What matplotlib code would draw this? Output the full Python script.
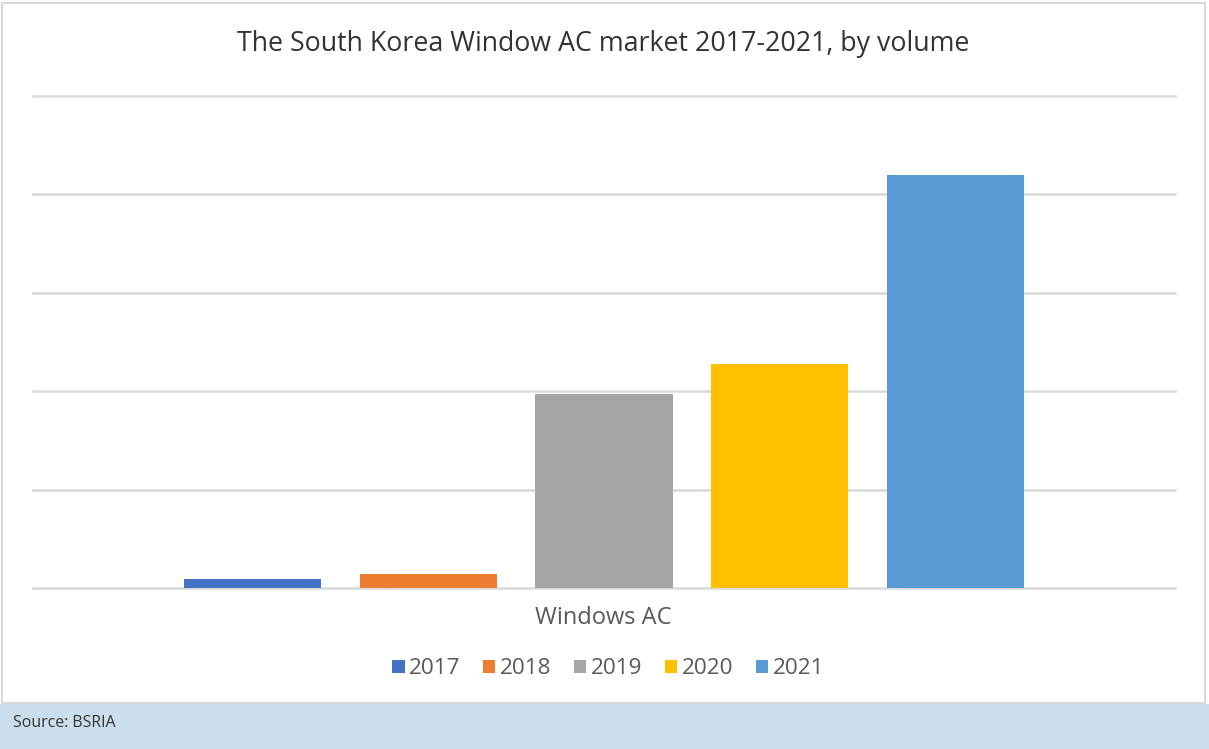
import matplotlib.pyplot as plt
from matplotlib.patches import Rectangle, Patch

# Données (unités = pas de grille, axe sans étiquettes)
years = ['2017', '2018', '2019', '2020', '2021']
volumes = [0.095, 0.146, 1.976, 2.275, 4.20]
colors = ['#4472C4', '#ED7D31', '#A5A5A5', '#FFC000', '#5B9BD5']
category = 'Windows AC'
title = 'The South Korea Window AC market 2017-2021, by volume'
source = 'Source: BSRIA'

plt.rcParams['font.family'] = ['Open Sans', 'DejaVu Sans']

W, H = 1209, 749
fig = plt.figure(figsize=(W / 100, H / 100), dpi=100)

# Cadre gris clair et bandeau source
fig.patches.append(Rectangle((2 / W, 46 / H), 1203 / W, 700 / H, transform=fig.transFigure,
                             facecolor='white', edgecolor='#d9d9d9', linewidth=1.5, zorder=-2))
fig.patches.append(Rectangle((0, 0), 1, 45 / H, transform=fig.transFigure,
                             facecolor='#cadeec', edgecolor='none', zorder=-2))

ax = fig.add_axes([33 / W, (H - 588) / H, (1175 - 33) / W, (588 - 96) / H])
ax.set_zorder(2)
ax.set_facecolor('none')

x = list(range(len(years)))
ax.bar(x, volumes, width=0.78, color=colors, zorder=3)

ax.set_xlim(-1.25, 5.25)
ax.set_ylim(0, 5)
ax.set_yticks(range(6))
ax.yaxis.grid(True, color='#d9d9d9', linewidth=1.8, zorder=0)
ax.set_axisbelow(True)
for gl in ax.get_ygridlines():
    gl.set_clip_on(False)
ax.tick_params(left=False, bottom=False, labelleft=False, labelbottom=False)
for s in ax.spines.values():
    s.set_visible(False)

fig.text(603 / W, 1 - 44 / H, title, ha='center', va='center', fontsize=19.3, color='#333333')
fig.text(603 / W, 1 - 618 / H, category, ha='center', va='center', fontsize=17, color='#595959')
fig.text(13 / W, 1 - 723 / H, source, ha='left', va='center', fontsize=11.4, color='#333333')

handles = [Patch(facecolor=c, edgecolor='none') for c in colors]
fig.legend(handles, years, loc='center', bbox_to_anchor=(608 / W, 1 - 669 / H), ncol=5,
           frameon=False, fontsize=16.2, labelcolor='#595959', handlelength=0.55, handleheight=0.55,
           handletextpad=0.2, columnspacing=1.0)

fig.savefig('out.png', dpi=100)
